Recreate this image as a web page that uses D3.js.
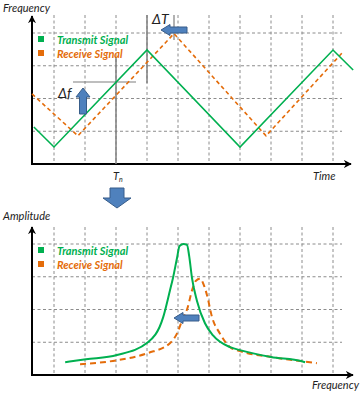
<!DOCTYPE html>
<html><head><meta charset="utf-8">
<script src="https://cdn.jsdelivr.net/npm/d3@7"></script>
<style>
html,body{margin:0;padding:0;background:#fff;}
svg{display:block;}
text{font-family:Lato,"Open Sans",sans-serif;font-style:italic;}
</style></head>
<body><svg id="c" width="363" height="395"></svg>
<script>
// ---------- data ----------
const gridX = [1,2,3,4,5,6,7,8,9,10];
const gridY = [1,2,3,4];
const seriesNames = ["Transmit Signal","Receive Signal"];
// top: frequency vs time
const txTime = [[0.35,1.13],[1,0.52],[4,3.48],[7,0.52],[10,3.48],[10.65,2.87]];
const rxTime = [[0.29,2.14],[1.77,0.86],[4.87,3.98],[7.84,0.86],[10.35,3.45]];
// bottom: amplitude vs frequency
const txSpec = [[1.36,0.39],[2.03,0.48],[3.03,0.61],[4.03,1.0],[4.52,1.76],[4.74,2.58],[4.84,2.97],[4.97,3.58],[5.05,3.94],[5.18,4.0],[5.29,3.97],[5.36,3.64],[5.45,2.97],[5.61,2.27],[5.87,1.58],[6.13,1.21],[6.68,0.85],[7.0,0.76],[8.0,0.55],[9.0,0.42],[9.1,0.39]];
const rxSpec = [[1.84,0.33],[3.03,0.45],[4.03,0.67],[4.74,0.97],[4.97,1.27],[5.16,1.73],[5.29,2.0],[5.48,2.67],[5.58,2.88],[5.71,2.94],[5.84,2.73],[5.94,2.42],[6.10,1.76],[6.35,1.27],[6.68,0.85],[7.0,0.73],[8.0,0.55],[9.0,0.42],[9.48,0.36]];

const GREEN="#00b050", ORANGE="#e46c0a", BLUE="#4f81bd", BLUE_D="#385d8a", GRID="#8c8c8c";

const svg = d3.select("#c");
const defs = svg.append("defs");
defs.append("marker").attr("id","ah").attr("viewBox","0 0 10 10").attr("refX",9).attr("refY",5)
  .attr("markerWidth",4).attr("markerHeight",4).attr("orient","auto")
  .append("path").attr("d","M0,0 L10,5 L0,10 L3,5 Z").attr("fill","#000");

function panel(cfg){
  const x = d3.scaleLinear().domain([0,10]).range([23,333]);
  const y = d3.scaleLinear().domain([0,4]).range([cfg.y0, cfg.y0-131]);
  const g = svg.append("g");
  // grid
  g.selectAll(".gx").data(gridX).join("line")
    .attr("x1",d=>x(d)).attr("x2",d=>x(d)).attr("y1",cfg.gTop).attr("y2",y(0))
    .attr("stroke",GRID).attr("stroke-width",1).attr("stroke-dasharray","3,2.5");
  g.selectAll(".gy").data(gridY).join("line")
    .attr("x1",32).attr("x2",342).attr("y1",d=>y(d)).attr("y2",d=>y(d))
    .attr("stroke",GRID).attr("stroke-width",1).attr("stroke-dasharray","3,2.5");
  // axes
  g.append("line").attr("x1",32).attr("x2",32).attr("y1",y(0)+1).attr("y2",cfg.aTop)
    .attr("stroke","#000").attr("stroke-width",2).attr("marker-end","url(#ah)");
  g.append("line").attr("x1",31).attr("x2",cfg.aRight).attr("y1",y(0)).attr("y2",y(0))
    .attr("stroke","#000").attr("stroke-width",2).attr("marker-end","url(#ah)");
  return {x,y,g};
}

// ---------- top panel ----------
const T = panel({y0:164, gTop:15, aTop:16, aRight:351});
// annotation lines
T.g.append("line").attr("x1",T.x(3)).attr("x2",T.x(3)).attr("y1",57).attr("y2",164).attr("stroke","#7f7f7f").attr("stroke-width",1.5);
T.g.append("line").attr("x1",T.x(4)).attr("x2",T.x(4)).attr("y1",15).attr("y2",83).attr("stroke","#7f7f7f").attr("stroke-width",1.5);
T.g.append("line").attr("x1",174).attr("x2",174).attr("y1",15).attr("y2",40).attr("stroke","#7f7f7f").attr("stroke-width",1.2);
T.g.append("line").attr("x1",73).attr("x2",136).attr("y1",82).attr("y2",82).attr("stroke","#7f7f7f").attr("stroke-width",1.2);

const lineT = d3.line().x(d=>T.x(d[0])).y(d=>T.y(d[1]));
T.g.append("path").datum(rxTime).attr("d",lineT).attr("fill","none").attr("stroke",ORANGE).attr("stroke-width",1.6).attr("stroke-dasharray","4,3");
T.g.append("path").datum(txTime).attr("d",lineT).attr("fill","none").attr("stroke",GREEN).attr("stroke-width",1.6);

// ---------- bottom panel ----------
const B = panel({y0:375, gTop:227, aTop:227, aRight:353});
const lineB = d3.line().x(d=>B.x(d[0])).y(d=>B.y(d[1])).curve(d3.curveMonotoneX);
B.g.append("path").datum(rxSpec).attr("d",lineB).attr("fill","none").attr("stroke",ORANGE).attr("stroke-width",2).attr("stroke-dasharray","6,4");
B.g.append("path").datum(txSpec).attr("d",lineB).attr("fill","none").attr("stroke",GREEN).attr("stroke-width",2);

// ---------- legends ----------
function legend(y){
  const colors=[GREEN,ORANGE];
  seriesNames.forEach((n,i)=>{
    svg.append("rect").attr("x",38).attr("y",y+i*14-5).attr("width",6).attr("height",6).attr("fill",colors[i]);
    svg.append("text").attr("x",57).attr("y",y+i*14+3).attr("fill",colors[i])
      .attr("font-size",11).attr("font-weight",700).text(n);
  });
}
legend(41);
legend(252);

// ---------- labels ----------
svg.append("text").attr("x",3).attr("y",12).attr("font-size",11).attr("fill","#222").text("Frequency");
svg.append("text").attr("x",313).attr("y",180).attr("font-size",11).attr("fill","#222").text("Time");
svg.append("text").attr("x",3).attr("y",220).attr("font-size",11).attr("fill","#222").text("Amplitude");
svg.append("text").attr("x",312).attr("y",389).attr("font-size",11).attr("fill","#222").text("Frequency");
const tn = svg.append("text").attr("x",113).attr("y",180).attr("font-size",11).attr("fill","#222");
tn.append("tspan").text("T");
tn.append("tspan").attr("font-size",7).attr("dy",2).text("n");
svg.append("text").attr("x",152).attr("y",24).attr("font-size",14).attr("fill","#222").text("ΔT");
svg.append("text").attr("x",58).attr("y",98).attr("font-size",14).attr("fill","#222").text("Δf");

// ---------- blue arrows ----------
function arrowLeft(tipX, cy, len, hw, sw, hl){
  const p = `M${tipX},${cy} L${tipX+hl},${cy-hw} L${tipX+hl},${cy-sw} L${tipX+len},${cy-sw} L${tipX+len},${cy+sw} L${tipX+hl},${cy+sw} L${tipX+hl},${cy+hw} Z`;
  svg.append("path").attr("d",p).attr("fill",BLUE).attr("stroke",BLUE_D).attr("stroke-width",1);
}
function arrowVert(cx, tipY, len, hw, sw, hl, dir){ // dir=-1 up, 1 down
  const s = -dir; // body direction
  const p = `M${cx},${tipY} L${cx-hw},${tipY+s*hl} L${cx-sw},${tipY+s*hl} L${cx-sw},${tipY+s*len} L${cx+sw},${tipY+s*len} L${cx+sw},${tipY+s*hl} L${cx+hw},${tipY+s*hl} Z`;
  svg.append("path").attr("d",p).attr("fill",BLUE).attr("stroke",BLUE_D).attr("stroke-width",1);
}
arrowLeft(161, 30, 26, 5.5, 3, 9);
arrowVert(83, 88, 26, 7, 3.5, 9, -1);
arrowVert(117, 208, 20, 14, 7, 10, 1);
arrowLeft(174, 318, 25, 5.5, 3, 9);
</script></body></html>
